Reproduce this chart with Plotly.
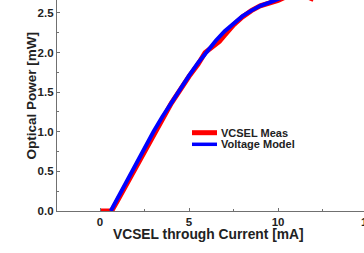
import plotly.graph_objects as go

# VCSEL measured optical power vs current
meas_current = [0.05, 0.4, 0.65, 1.0, 2.0, 3.0, 4.0, 5.0, 5.5, 5.9, 6.3, 6.7, 7.0, 7.5,
                8.0, 8.5, 9.0, 9.5, 10.0, 10.5, 11.0, 11.5, 12.0]
meas_power = [0.0, 0.0, 0.0, 0.14, 0.55, 0.97, 1.36, 1.70, 1.85, 2.0, 2.07, 2.14, 2.22, 2.35,
              2.45, 2.53, 2.59, 2.62, 2.66, 2.71, 2.73, 2.72, 2.67]

# Voltage model
model_current = [0.6, 1.0, 2.0, 3.0, 3.5, 4.0, 4.6, 5.0, 5.5, 6.0, 6.5, 7.0, 7.5, 8.0,
                 8.5, 9.0, 9.5, 10.0, 10.5]
model_power = [0.0, 0.17, 0.58, 1.0, 1.19, 1.37, 1.57, 1.71, 1.87, 2.02, 2.15, 2.27, 2.37, 2.46,
               2.53, 2.59, 2.63, 2.67, 2.72]

series_names = ["VCSEL Meas", "Voltage Model"]
series_colors = ["#ff0000", "#0000ff"]

x_tickvals = [0, 5, 10]
x_ticktext = ["0", "5", "10"]
x_clipped_tick = "15"
y_tickvals = [0.0, 0.5, 1.0, 1.5, 2.0, 2.5]
y_ticktext = ["0.0", "0.5", "1.0", "1.5", "2.0", "2.5"]

FONT = "Liberation Sans, Arial, sans-serif"
W, H = 364, 253
ML, MB = 57, 42
PW, PH = W - ML, H - MB

def px_to_paper(px, py):
    return (px - ML) / PW, (PH - py) / PH

fig = go.Figure()
fig.add_trace(go.Scatter(x=meas_current, y=meas_power, mode="lines", name=series_names[0],
                         line=dict(color=series_colors[0], width=5), showlegend=False))
fig.add_trace(go.Scatter(x=model_current, y=model_power, mode="lines", name=series_names[1],
                         line=dict(color=series_colors[1], width=4), showlegend=False))

axis_common = dict(showgrid=False, zeroline=False, showline=True, linecolor="#707070",
                   linewidth=1.2, ticks="inside", ticklen=3, tickcolor="#707070",
                   automargin=False,
                   tickfont=dict(family=FONT, size=11.5, color="#222", weight="bold"))

fig.update_xaxes(range=[-2.42, 14.83], tickvals=x_tickvals, ticktext=x_ticktext,
                 minor=dict(dtick=2.5, tick0=0, ticks="inside", ticklen=2, tickcolor="#707070"),
                 **axis_common)
fig.update_yaxes(range=[0, 2.664], tickvals=y_tickvals, ticktext=y_ticktext,
                 minor=dict(dtick=0.25, tick0=0, ticks="inside", ticklen=2, tickcolor="#707070"),
                 **axis_common)

ann = []
# clipped "15" tick label at the right edge (cut off in the reference too)
tx, ty = px_to_paper(360, 215)
ann.append(dict(x=tx, y=ty, xref="paper", yref="paper", text="<b>%s</b>" % x_clipped_tick,
                xanchor="left", yanchor="top", borderpad=0,
                showarrow=False, font=dict(family=FONT, size=11.5, color="#222")))
# axis titles
tx, ty = px_to_paper(208, 244)
ann.append(dict(x=tx, y=ty, xref="paper", yref="paper", text="<b>VCSEL through Current [mA]</b>",
                showarrow=False, font=dict(family=FONT, size=13.8, color="#222")))
tx, ty = px_to_paper(21, 96)
ann.append(dict(x=tx, y=ty, xref="paper", yref="paper", text="<b>Optical Power [mW]</b>",
                textangle=-90, showarrow=False, font=dict(family=FONT, size=13.5, color="#222")))

# legend
shapes = []
legend_rows = [132.7, 144.3]
legend_widths = [5, 3.5]
for name, color, py, lw in zip(series_names, series_colors, legend_rows, legend_widths):
    x0, y0 = px_to_paper(192, py)
    x1, _ = px_to_paper(217, py)
    shapes.append(dict(type="line", xref="paper", yref="paper", x0=x0, x1=x1, y0=y0, y1=y0,
                       line=dict(color=color, width=lw)))
    tx, _ = px_to_paper(219, py)
    ann.append(dict(x=tx, y=y0, xref="paper", yref="paper", text="<b>%s</b>" % name,
                    showarrow=False, xanchor="left", yanchor="middle",
                    font=dict(family=FONT, size=11, color="#222")))

fig.update_layout(width=W, height=H, margin=dict(l=ML, r=0, t=0, b=MB, autoexpand=False),
                  paper_bgcolor="white", plot_bgcolor="white",
                  annotations=ann, shapes=shapes, showlegend=False)

fig.write_html("out.html", config={"displayModeBar": False},
               post_script="document.body.style.margin='0';document.body.style.overflow='hidden';")
